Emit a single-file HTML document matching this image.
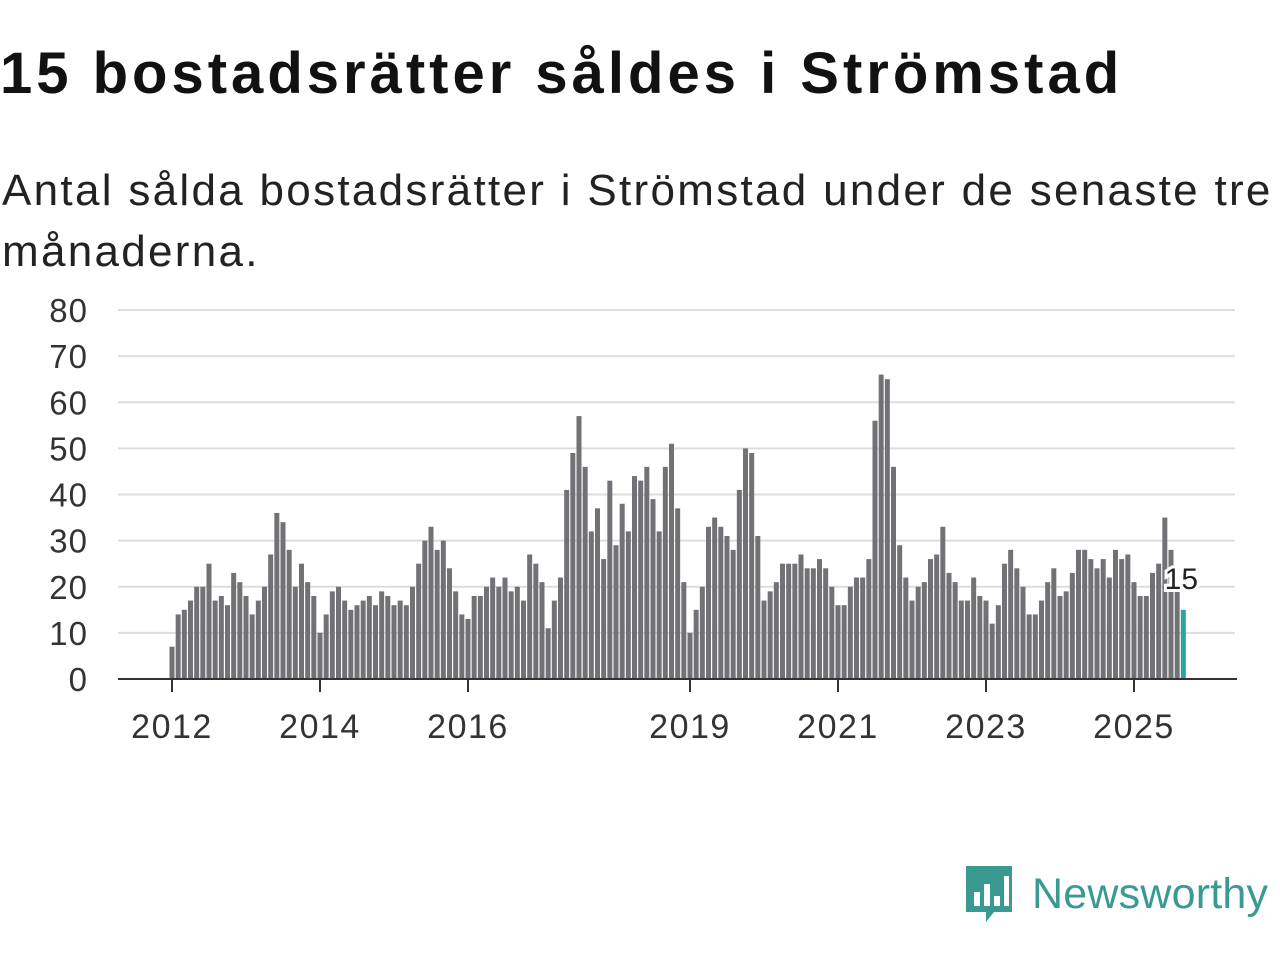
<!DOCTYPE html>
<html><head><meta charset="utf-8"><style>
body{margin:0;width:1280px;height:960px;background:#fff;font-family:"Liberation Sans",sans-serif;overflow:hidden;position:relative}
h1{position:absolute;left:0px;top:40px;margin:0;font-size:58px;font-weight:bold;color:#111;letter-spacing:4px;white-space:nowrap}
.sub{position:absolute;left:2px;top:160px;margin:0;font-size:44px;line-height:61px;color:#222;width:1285px;letter-spacing:2.3px}
</style></head><body>
<h1>15 bostadsrätter såldes i Strömstad</h1>
<p class="sub">Antal sålda bostadsrätter i Strömstad under de senaste tre månaderna.</p>
<svg id="chart" width="1280" height="960" style="position:absolute;left:0;top:0"></svg>
<div style="position:absolute;left:964px;top:862px;display:flex;align-items:center">
<svg width="52" height="64" viewBox="0 0 52 64"><path d="M2 4h46v46H30l-8 10v-10H2z" fill="#3a9a92"/><rect x="10" y="30" width="6" height="14" fill="#fff"/><rect x="20" y="22" width="6" height="22" fill="#fff"/><rect x="30" y="34" width="6" height="10" fill="#fff"/><rect x="40" y="14" width="5" height="30" fill="#fff"/></svg>
<span style="font-size:43px;color:#3a9a92;margin-left:16px;letter-spacing:0.2px">Newsworthy</span></div>
<script>
const values=[7,14,15,17,20,20,25,17,18,16,23,21,
18,14,17,20,27,36,34,28,20,25,21,18,
10,14,19,20,17,15,16,17,18,16,19,18,
16,17,16,20,25,30,33,28,30,24,19,14,
13,18,18,20,22,20,22,19,20,17,27,25,
21,11,17,22,41,49,57,46,32,37,26,43,
29,38,32,44,43,46,39,32,46,51,37,21,
10,15,20,33,35,33,31,28,41,50,49,31,
17,19,21,25,25,25,27,24,24,26,24,20,
16,16,20,22,22,26,56,66,65,46,29,22,
17,20,21,26,27,33,23,21,17,17,22,18,
17,12,16,25,28,24,20,14,14,17,21,24,
18,19,23,28,28,26,24,26,22,28,26,27,
21,18,18,23,25,35,28,19,15];
const yTicks=[0,10,20,30,40,50,60,70,80];
const xTickYears=[2012,2014,2016,2019,2021,2023,2025];
const startYear=2012;
const NS="http://www.w3.org/2000/svg";
const svg=document.getElementById('chart');
const y=v=>679-v*(369/80);
const x=m=>172+m*(74/12);
function mk(t,a){const e=document.createElementNS(NS,t);for(const k in a)e.setAttribute(k,a[k]);svg.appendChild(e);return e;}
yTicks.forEach(t=>{
 if(t>0){const l=mk('line',{x1:118,x2:1235,y1:y(t),y2:y(t),stroke:'#ddd','stroke-width':2});
 
 }
 const tx=mk('text',{x:88,y:y(t)+12,'text-anchor':'end','font-size':33,fill:'#333','font-family':'Liberation Sans','letter-spacing':1});
 tx.textContent=t;
 
 
});
values.forEach((v,i)=>{
 const last=i===values.length-1;
 const r=mk('rect',{x:x(i)-2.5,y:y(v),width:5,height:679-y(v),fill:last?'#2ba59b':'#727176'});
 
 
});
const ax=mk('line',{x1:118,x2:1237,y1:679,y2:679,stroke:'#333','stroke-width':2});


xTickYears.forEach(yr=>{
 const px=x((yr-startYear)*12);
 const tk=mk('line',{x1:px,x2:px,y1:679,y2:692,stroke:'#333','stroke-width':2});
 
 
 const t=mk('text',{x:px,y:738,'text-anchor':'middle','font-size':34,fill:'#333','font-family':'Liberation Sans','letter-spacing':1.5});
 t.textContent=yr;
 
 
});
const li=values.length-1;
const lb=mk('text',{x:x(li)-2,y:y(values[li])-21,'text-anchor':'middle','font-size':30,fill:'#222','font-family':'Liberation Sans',stroke:'#fff','stroke-width':6,'paint-order':'stroke'});
lb.textContent=values[li];


</script>
</body></html>
